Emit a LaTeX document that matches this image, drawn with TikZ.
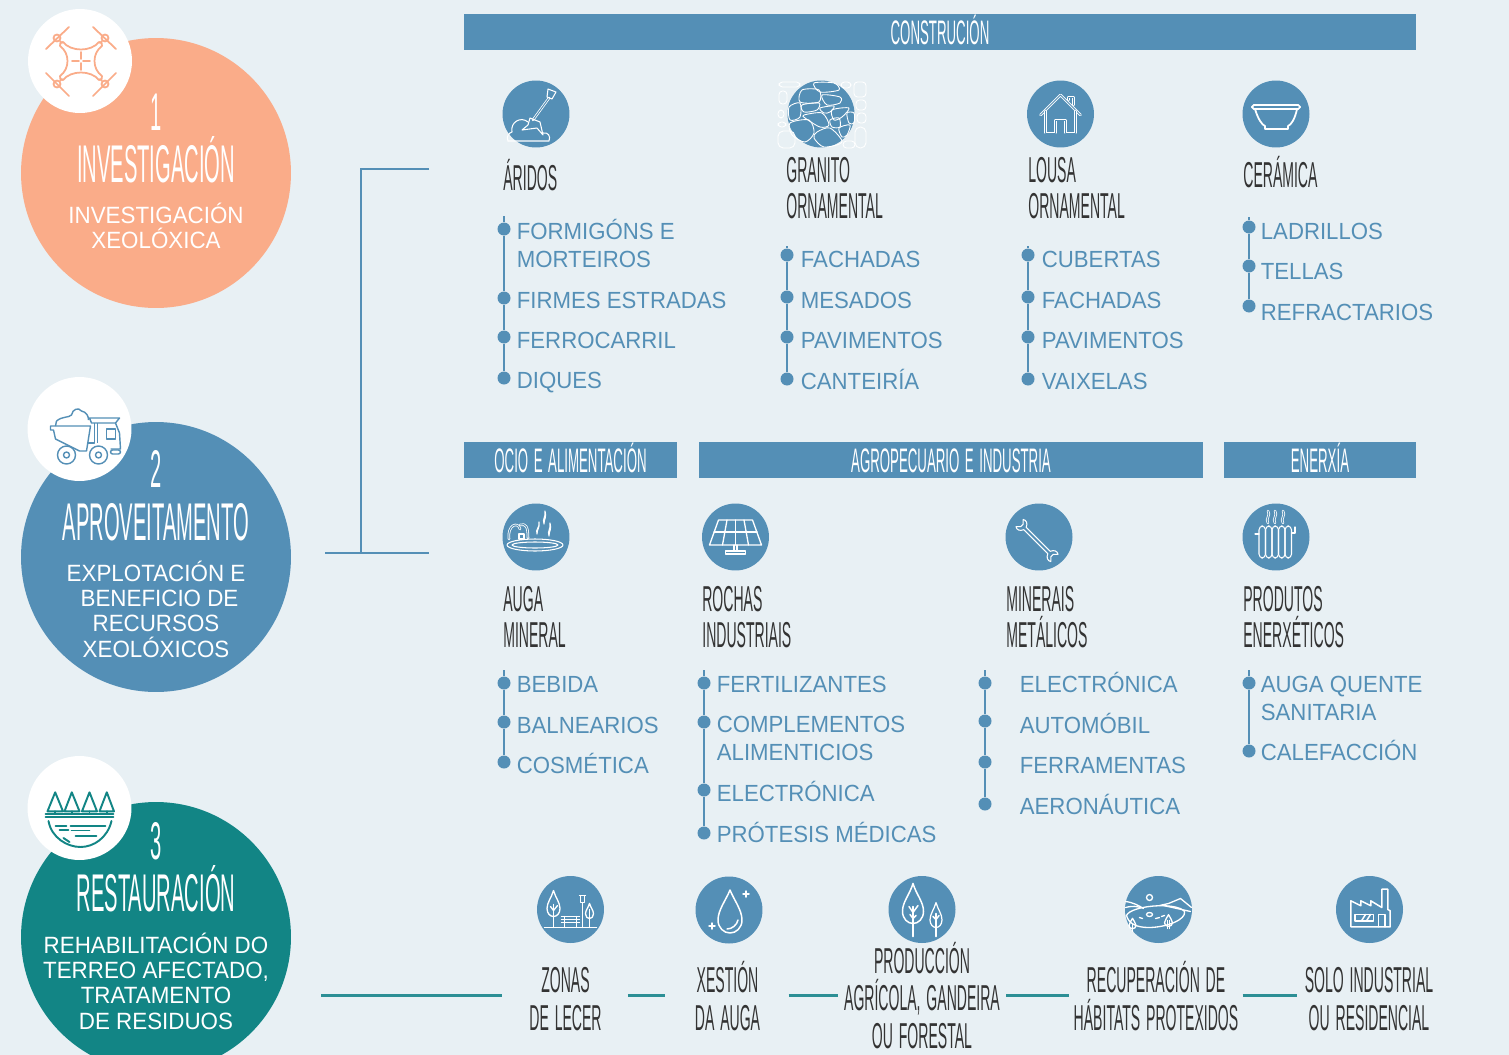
\documentclass[tikz,border=0pt]{standalone}
\usepackage{fontspec}
\setmainfont[FakeStretch=0.95]{Liberation Sans}
\newfontfamily\headfam[FakeStretch=0.39, WordSpace=1.5]{Liberation Sans}
\newfontfamily\bigfam[FakeStretch=0.38]{Liberation Sans}
\usetikzlibrary{positioning,calc}

\definecolor{bgcol}{HTML}{E8F0F4}
\definecolor{orangecol}{HTML}{FAAC89}
\definecolor{bluecol}{HTML}{548FB6}
\definecolor{tealcol}{HTML}{128585}
\definecolor{linkcol}{HTML}{2C8F95}
\definecolor{inkcol}{HTML}{333333}

\newcommand{\itemfont}{\fontsize{13.3}{15.94}\selectfont}
\newcommand{\subfont}{\fontsize{13.4}{14.25}\selectfont}
\newcommand{\labelfont}{\headfam\fontsize{20.5}{20.3}\selectfont}
\newcommand{\barfont}{\headfam\fontsize{19.35}{20}\selectfont}
\newcommand{\bigfont}{\bigfam\fontsize{30.2}{32}\selectfont}

\tikzset{
	leafy/.pic={
		\draw (0,-13) .. controls (-3,-6) and (-10,-1) .. (-10,5) .. controls (-10,10) and (-5,13) .. (0,13) .. controls (5,13) and (10,10) .. (10,5) .. controls (10,-1) and (3,-6) .. (0,-13) -- cycle;
	}
}

\begin{document}
\begin{tikzpicture}[x=0.02cm,y=-0.02cm]
	\useasboundingbox (0,0) rectangle (1509,1055);
	\clip (0,0) rectangle (1509,1055);
	\fill[bgcol] (0,0) rectangle (1509,1055);

	\begin{scope}
		\tikzstyle{every node}=[inner sep=0pt]
		\tikzstyle{stage}=[circle, minimum size=5.4cm]
		\tikzstyle{badge}=[circle, fill=white, minimum size=2.08cm]
		\tikzstyle{num}=[anchor=base, text=white, font=\bigfont]
		\tikzstyle{title}=[anchor=base, text=white, font=\bigfont]
		\tikzstyle{sub}=[anchor=base, text=white, font=\subfont, align=center]

		\node[stage, fill=orangecol] (inv) at (156,173) {};
		\node[badge] (invb) at (80,61) {};
		\node[num] (inv1) at (156,130) {1};
		\node[title] (invt) at (156,182) {INVESTIGACIÓN};
		\node[sub] (invs) at (156,248.3) {INVESTIGACIÓN\\XEOLÓXICA};

		\node[stage, fill=bluecol] (apr) at (156,557) {};
		\node[badge] (aprb) at (79.5,429) {};
		\node[num] (apr1) at (156,487) {2};
		\node[title] (aprt) at (156,540) {APROVEITAMENTO};
		\node[sub] (aprs) at (156,657) {EXPLOTACIÓN E\\\hspace{4pt}BENEFICIO DE\\RECURSOS\\XEOLÓXICOS};

		\node[stage, fill=tealcol] (res) at (156,937) {};
		\node[badge] (resb) at (79.5,808) {};
		\node[num] (res1) at (156,859) {3};
		\node[title] (rest) at (156,911) {RESTAURACIÓN};
		\node[sub] (ress) at (156,1029) {REHABILITACIÓN DO\\TERREO AFECTADO,\\TRATAMENTO\\DE RESIDUOS};
	\end{scope}

	\begin{scope}[shift={(80,61)}, orangecol, line width=1pt, line cap=round, line join=round]
		\draw (-34,-12) -- (-11,-34);
		\draw (13,-34) -- (36,-12);
		\draw (-34,12) -- (-11,35);
		\draw (36,12) -- (13,35);
		\draw (-23,-23) circle (3.5);
		\draw (25,-23) circle (3.5);
		\draw (-23,23) circle (3.5);
		\draw (25,23) circle (3.5);
		\draw (-20,-20) -- (-18,-18);
		\draw (22,-20) -- (20,-18);
		\draw (-20,20) -- (-18,18);
		\draw (22,20) -- (20,18);
		\draw (-17,-19) .. controls (-9,-9) and (11,-9) .. (19,-19) .. controls (21,-20) and (23,-17) .. (22,-15) .. controls (12,-8) and (12,8) .. (22,15) .. controls (23,17) and (21,20) .. (19,19) .. controls (11,9) and (-9,9) .. (-17,19) .. controls (-19,20) and (-21,17) .. (-20,15) .. controls (-10,8) and (-10,-8) .. (-20,-15) .. controls (-21,-17) and (-19,-20) .. (-17,-19) -- cycle;
		\draw (1,-9) -- (1,-2);
		\draw (1,2) -- (1,9);
		\draw (-8,0) -- (-1,0);
		\draw (3,0) -- (10,0);
	\end{scope}

	\begin{scope}[shift={(79.5,429)}, bluecol, line width=0.8pt, line join=round]
		\draw (-23,-8) .. controls (-17,-13) and (-11,-11) .. (-8,-14) .. controls (-7,-20) and (-1,-22) .. (2,-18) .. controls (7,-17) and (9,-13) .. (9,-9);
		\draw (-29,-3) -- (-29,1) -- (-26,1) -- (-24,10) -- (0,22) -- (7,22) -- (11,-3) -- cycle;
		\draw (-23,-8) -- (-24,-3);
		\draw (10,-11) -- (40,-11) -- (36,-6) -- (12,-6) -- cycle;
		\draw (15,-6) -- (15,14) -- (8,14);
		\draw (18,-6) -- (18,14);
		\draw (36,-6) -- (40,4) -- (41,20) -- (31,20);
		\draw (27,0) rectangle (36,10);
		\draw (-13,26) circle (9);
		\draw (-13,26) circle (3);
		\draw (19,26) circle (9);
		\draw (19,26) circle (3);
		\draw[rounded corners=1.2pt] (31,21) rectangle (41,25);
	\end{scope}

	\begin{scope}[shift={(79.5,808)}, tealcol, line width=1.1pt, line cap=round, line join=round]
		\draw (-24.3,-15.7) -- (-32,3.3) -- (-16.5,3.3) -- cycle;
		\draw (-7.7,-15.7) -- (-15,3.3) -- (0,3.3) -- cycle;
		\draw (10,-15.7) -- (2.5,3.3) -- (17.5,3.3) -- cycle;
		\draw (27.3,-15.7) -- (20,3.3) -- (34.5,3.3) -- cycle;
		\draw (-24.3,3.3) -- (-24.3,6);
		\draw (-7.7,3.3) -- (-7.7,6);
		\draw (10,3.3) -- (10,6);
		\draw (27.3,3.3) -- (27.3,6);
		\draw (-34,5.7) -- (34,5.7);
		\draw (-34,9) -- (34,9);
		\draw (-31,13) .. controls (-28,30) and (-12,39) .. (1,39) .. controls (14,39) and (28,30) .. (32,13);
		\draw (-24,17.7) -- (-13,17.7);
		\draw (-9,17.7) -- (26,17.7);
		\draw (-20,22) -- (-11,22);
		\draw (-8,22.5) -- (10,22.5);
		\draw (-4,28) -- (17,28);
		\draw (-16,30) -- (-10,34);
	\end{scope}

	\begin{scope}[bluecol, line width=1.15pt]
		\coordinate (brtop) at (429,169);
		\coordinate (brmid) at (361,169);
		\coordinate (brjoin) at (361,553);
		\coordinate (brend) at (429,553);
		\draw (brtop) -- (brmid) -- (brjoin);
		\draw[shorten <=19.35pt] (apr.east |- brjoin) -- (brend);
	\end{scope}

	\begin{scope}
		\tikzstyle{every node}=[inner sep=0pt]
		\tikzstyle{bar}=[fill=bluecol, text=white, font=\barfont, minimum height=0.72cm, text height=14pt, text depth=0pt]

		\node[bar, minimum width=19.04cm] (cons) at (940,32) {CONSTRUCIÓN};
		\node[bar, minimum width=4.26cm] (ocio) at (570.5,460) {OCIO E ALIMENTACIÓN};
		\node[bar, minimum width=10.08cm] (agro) at (951,460) {AGROPECUARIO E INDUSTRIA};
		\node[bar, minimum width=3.84cm] (ener) at (1320,460) {ENERXÍA};
	\end{scope}

	\begin{scope}
		\tikzstyle{every node}=[inner sep=0pt]
		\tikzstyle{disc}=[circle, fill=bluecol, minimum size=1.34cm]

		\node[disc] (ari) at (536,114) {};
		\node[disc] (gra) at (821,114) {};
		\node[disc] (lou) at (1060.5,114) {};
		\node[disc] (cer) at (1276,114) {};
		\node[disc] (aug) at (536,537) {};
		\node[disc] (roc) at (735.5,537) {};
		\node[disc] (mnr) at (1039,537) {};
		\node[disc] (pro) at (1276,537) {};
		\node[disc] (zon) at (570.5,909.5) {};
		\node[disc] (xes) at (729,910) {};
		\node[disc] (prd) at (922,909.5) {};
		\node[disc] (rec) at (1158.5,909.5) {};
		\node[disc] (sol) at (1369.5,909.5) {};
	\end{scope}

	\tikzstyle{ico}=[white, line width=0.6pt, line join=round, line cap=round]
	\tikzstyle{icob}=[white, line width=1pt, line join=round, line cap=round]
	\tikzstyle{twin}=[white, line width=0.45pt, double=bluecol, double distance=0.55pt, line join=round]

	\begin{scope}[shift={(536,114)}, ico]
		\draw[twin] (13,-16) -- (-3,6);
		\draw (11,-17) -- (12,-25) -- (20,-22) -- (16,-15) -- cycle;
		\draw (-6,4) -- (4,8) -- (7,21) -- (1,14) -- (-14,16) -- (-8,11) -- cycle;
		\draw (-28,27) .. controls (-30,22) and (-27,19) .. (-24,18) .. controls (-26,8) and (-15,2) .. (-8,8);
		\draw (7,19) .. controls (12,18) and (15,22) .. (13,27) -- (-28,27);
	\end{scope}

	\begin{scope}[shift={(821,114)}, ico, line width=0.5pt]
		\draw plot[smooth cycle] coordinates {(-19,-24) (-2,-24) (-2,-12) (-21,-12)};
		\draw plot[smooth cycle] coordinates {(1,-19) (19,-17) (19,-11) (6,-9)};
		\draw plot[smooth cycle] coordinates {(-32,-7) (-21,-11) (-21,3) (-31,6)};
		\draw plot[smooth cycle] coordinates {(-19,-9) (-2,-11) (-4,-4) (-17,-2)};
		\draw plot[smooth cycle] coordinates {(-1,-6) (13,-8) (9,-2) (3,-1)};
		\draw plot[smooth cycle] coordinates {(-17,1) (1,-1) (8,11) (-1,13) (-16,4)};
		\draw plot[smooth cycle] coordinates {(11,-4) (28,-6) (21,3) (13,6)};
		\draw plot[smooth cycle] coordinates {(9,6) (18,4) (19,13) (11,13)};
		\draw plot[smooth cycle] coordinates {(-31,9) (-12,6) (-7,19) (-16,28) (-29,21)};
		\draw plot[smooth cycle] coordinates {(-4,18) (9,14) (21,28) (3,33) (-7,24)};
		\draw plot[smooth cycle] coordinates {(18,14) (29,11) (26,21) (21,23)};
		\draw plot[smooth cycle] coordinates {(26,-1) (33,-1) (33,9) (28,9)};
		\draw plot[smooth cycle] coordinates {(-7,-31) (13,-31) (18,-24) (-1,-22)};
		\draw[rounded corners=2pt] (-42,-32) rectangle (-21,-27);
		\draw[rounded corners=2pt] (-42,-23) rectangle (-34,-10);
		\draw[rounded corners=2pt] (-43,-4) rectangle (-37,4);
		\draw[rounded corners=2pt] (-43,8) rectangle (-35,13);
		\draw[rounded corners=3pt] (-43,17) rectangle (-26,34);
		\draw[rounded corners=2pt] (33,-32) rectangle (45,-17);
		\draw[rounded corners=2pt] (35,-14) rectangle (45,-4);
		\draw[rounded corners=2pt] (36,-1) rectangle (45,9);
		\draw[rounded corners=3pt] (34,13) rectangle (45,34);
		\draw[rounded corners=2pt] (20,-32) rectangle (30,-26);
		\draw[rounded corners=2pt] (22,27) rectangle (34,34);
	\end{scope}

	\begin{scope}[shift={(1060.5,114)}, ico]
		\draw[twin] (-20,1) -- (0,-19) -- (20,1);
		\draw[twin] (-15,-3) -- (-15,19) -- (-5,19) -- (-5,6) -- (5,6) -- (5,19) -- (15,19) -- (15,-3);
		\draw[twin] (8,-14) -- (8,-17) -- (13,-17) -- (13,-9);
	\end{scope}

	\begin{scope}[shift={(1276,114)}, ico]
		\draw[icob, rounded corners=1pt] (-24,-9) -- (24,-9) -- (24,-5) -- (-24,-5) -- cycle;
		\draw[icob] (-21,-5) .. controls (-18,5) and (-14,11) .. (-11,12) -- (-11,15) -- (12,15) -- (12,12) .. controls (15,11) and (19,5) .. (21,-5);
	\end{scope}

	\begin{scope}[shift={(536,537)}, ico]
		\draw (-1,8) ellipse (28 and 6);
		\draw (-1,8) ellipse (23 and 3);
		\draw[twin] (-27,2) .. controls (-29,-12) and (-18,-16) .. (-16,-8);
		\draw[twin] (-16,-12) .. controls (-10,-14) and (-8,-10) .. (-8,1);
		\draw (-17,-3) rectangle (-12,2);
		\draw (1,-3) .. controls (-1,-8) and (4,-9) .. (3,-15) .. controls (4,-9) and (1,-8) .. (1,-3) -- cycle;
		\draw (8,-13) .. controls (6,-18) and (10,-20) .. (9,-26) .. controls (11,-20) and (8,-18) .. (8,-13) -- cycle;
		\draw (13,-1) .. controls (11,-6) and (15,-8) .. (14,-14) .. controls (16,-8) and (13,-6) .. (13,-1) -- cycle;
	\end{scope}

	\begin{scope}[shift={(735.5,537)}, ico, line width=0.75pt]
		\draw (-17,-17) -- (17,-17) -- (26,8) -- (-26,8) -- cycle;
		\draw (-21.5,-5) -- (21.5,-5);
		\draw (-8.5,-17) -- (-13,8);
		\draw (0,-17) -- (0,8);
		\draw (8.5,-17) -- (13,8);
		\draw (-1.5,8) -- (-1.5,14);
		\draw (1.5,8) -- (1.5,14);
		\draw (-10,14) rectangle (10,17);
	\end{scope}

	\begin{scope}[shift={(1037,540.5)}, rotate=-45, scale=0.85, ico]
		\draw (-20,-2) -- (20,-2) .. controls (22,-7) and (26,-8) .. (29,-6) -- (25,-2) -- (25,2) -- (29,6) .. controls (26,8) and (22,7) .. (20,2) -- (-20,2) .. controls (-22,7) and (-26,8) .. (-29,6) -- (-25,2) -- (-25,-2) -- (-29,-6) .. controls (-26,-8) and (-22,-7) .. (-20,-2) -- cycle;
	\end{scope}

	\begin{scope}[shift={(1276,537)}, ico]
		\draw[twin] (-8,-26) .. controls (-5,-22) and (-11,-18) .. (-8,-14);
		\draw[twin] (-1,-26) .. controls (2,-22) and (-4,-18) .. (-1,-14);
		\draw[twin] (7,-26) .. controls (10,-22) and (4,-18) .. (7,-14);
		\draw[rounded corners=2.2pt] (-17,-11) rectangle (-10.5,21);
		\draw[rounded corners=2.2pt] (-10.5,-11) rectangle (-4,21);
		\draw[rounded corners=2.2pt] (-4,-11) rectangle (2.5,21);
		\draw[rounded corners=2.2pt] (2.5,-11) rectangle (9,21);
		\draw[rounded corners=2.2pt] (9,-11) rectangle (15.5,21);
		\draw (-21,-3) -- (-17,-3);
		\draw (15.5,-4) -- (19,-4) -- (19,-10);
	\end{scope}

	\begin{scope}[shift={(570.5,909.5)}, ico, line width=0.75pt]
		\draw (-26,18) -- (26,18);
		\pic[ico, line width=0.75pt, xscale=0.65, yscale=1] at (-17,-6) {leafy};
		\draw (-17,-5) -- (-17,18);
		\draw (-20,-3) -- (-17,1) -- (-13,-4);
		\draw (-9,7) -- (9,7);
		\draw (-9,10) -- (9,10);
		\draw (-9,13) -- (9,13);
		\draw (-6,7) -- (-6,18);
		\draw (6,7) -- (6,18);
		\draw (9,-14) -- (15,-14);
		\draw (10,-14) rectangle (14,-7);
		\draw (12,-7) -- (12,18);
		\pic[ico, line width=0.75pt, xscale=0.4, yscale=0.58] at (19,1.5) {leafy};
		\draw (19,0) -- (19,18);
	\end{scope}

	\begin{scope}[shift={(729,910)}, ico, line width=0.85pt]
		\draw (1,-20) .. controls (-3,-10) and (-11,0) .. (-11,10) .. controls (-11,18) and (-5,23) .. (1,23) .. controls (7,23) and (13,18) .. (13,10) .. controls (13,0) and (5,-10) .. (1,-20) -- cycle;
		\draw (-2,19) .. controls (3,19) and (8,15) .. (9,10);
		\draw (17,-19) -- (17,-13);
		\draw (14,-16) -- (20,-16);
		\draw (-17,13) -- (-17,19);
		\draw (-20,16) -- (-14,16);
	\end{scope}

	\begin{scope}[shift={(922,909.5)}, ico, line width=0.85pt]
		\pic[ico, line width=0.85pt, xscale=1.05, yscale=1.54] at (-9,-6) {leafy};
		\draw (-9,-3) -- (-9,27);
		\draw (-13,-3) -- (-9,3) -- (-4,-4);
		\draw (-12,5) -- (-9,9) -- (-6,6);
		\pic[ico, line width=0.7pt, xscale=0.6, yscale=0.96] at (14,5.5) {leafy};
		\draw (14,4) -- (14,27);
		\draw (11,7) -- (14,10) -- (17,6);
	\end{scope}

	\begin{scope}[shift={(1158.5,909.5)}, ico, line width=0.75pt]
		\draw (-9,-12) circle (3);
		\draw (-33,-8) .. controls (-25,-7) and (-20,-4) .. (-15,-1);
		\draw (-33,-2) .. controls (-25,-4) and (-22,-3) .. (-18,-2);
		\draw (1,-4) -- (10,-6) -- (22,-11) -- (33,-2);
		\draw (5,-4) -- (32,2);
		\draw (-32,6) .. controls (-28,-4) and (18,-8) .. (26,2) .. controls (28,10) and (8,18) .. (-10,18) .. controls (-22,18) and (-30,14) .. (-32,6) -- cycle;
		\draw (-9,5) ellipse (3 and 2);
		\draw (-19,8) -- (-16,9);
		\draw (-3,9) -- (1,8);
		\draw (3,7) -- (6,6);
		\pic[ico, fill=bluecol, line width=0.75pt, xscale=0.35, yscale=0.4] at (-26,14) {leafy};
		\draw (-26,15) -- (-26,22);
		\pic[ico, fill=bluecol, line width=0.75pt, xscale=0.4, yscale=0.45] at (10,11) {leafy};
		\draw (9,11) -- (9,19);
		\draw (11,11) -- (11,19);
	\end{scope}

	\begin{scope}[shift={(1369.5,909.5)}, ico, line width=0.85pt]
		\draw (-18.7,17.3) -- (-18.7,-8.7) -- (-8.7,-3.7) -- (-8.7,-8.7) -- (1.3,-3.7) -- (1.3,-8.7) -- (12.3,-2) -- (12.3,-20.3) -- (18.3,-20.3) -- (18.3,0) -- (20.7,1.3) -- (20.7,17.3) -- cycle;
		\draw (-14.3,5) rectangle (4,11.3);
		\draw (-8,11.3) -- (-4,5);
		\draw (-3,11.3) -- (1,5);
		\draw (9,17.3) -- (9,5) -- (15.7,5) -- (15.7,17.3);
	\end{scope}

	\begin{scope}
		\tikzstyle{every node}=[inner sep=0pt]
		\tikzstyle{head}=[anchor=base west, text=inkcol, font=\labelfont, align=left]

		\node[head] (arih) at (503,190.7) {ÁRIDOS};
		\node[head] (grah) at (786,218.3) {GRANITO\\ORNAMENTAL};
		\node[head] (louh) at (1028,218.3) {LOUSA\\ORNAMENTAL};
		\node[head] (cerh) at (1243,187.3) {CERÁMICA};
		\node[head] (augh) at (503,647) {AUGA\\MINERAL};
		\node[head] (roch) at (702,647) {ROCHAS\\INDUSTRIAIS};
		\node[head] (mnrh) at (1006,647) {MINERAIS\\METÁLICOS};
		\node[head] (proh) at (1243,647) {PRODUTOS\\ENERXÉTICOS};
	\end{scope}

	\begin{scope}
		\tikzstyle{every node}=[inner sep=0pt]
		\tikzstyle{dot}=[circle, fill=bluecol, minimum size=0.26cm]
		\tikzstyle{spine}=[bluecol, line width=1.4pt]
		\tikzstyle{item}=[anchor=base west, text=bluecol, font=\itemfont, align=left]

		\coordinate (a0) at (504,216);
		\node[dot] (a1) at (504,229) {};
		\node[dot] (a2) at (504,298) {};
		\node[dot] (a3) at (504,337) {};
		\node[dot] (a4) at (504,378) {};
		\draw[spine] (a0) -- (a1) -- (a2) -- (a3) -- (a4);
		\node[item] (a1t) at (516.5,267.5) {FORMIGÓNS E\\MORTEIROS};
		\node[item] (a2t) at (516.5,308.5) {FIRMES ESTRADAS};
		\node[item] (a3t) at (516.5,348.5) {FERROCARRIL};
		\node[item] (a4t) at (516.5,388.5) {DIQUES};

		\coordinate (g0) at (787,246);
		\node[dot] (g1) at (787,255) {};
		\node[dot] (g2) at (787,297) {};
		\node[dot] (g3) at (787,337) {};
		\node[dot] (g4) at (787,379) {};
		\draw[spine] (g0) -- (g1) -- (g2) -- (g3) -- (g4);
		\node[item] (g1t) at (800.5,267.5) {FACHADAS};
		\node[item] (g2t) at (800.5,308.5) {MESADOS};
		\node[item] (g3t) at (800.5,348.5) {PAVIMENTOS};
		\node[item] (g4t) at (800.5,389.5) {CANTEIRÍA};

		\coordinate (l0) at (1028,246);
		\node[dot] (l1) at (1028,255) {};
		\node[dot] (l2) at (1028,297) {};
		\node[dot] (l3) at (1028,337) {};
		\node[dot] (l4) at (1028,379) {};
		\draw[spine] (l0) -- (l1) -- (l2) -- (l3) -- (l4);
		\node[item] (l1t) at (1041.5,267.5) {CUBERTAS};
		\node[item] (l2t) at (1041.5,308.5) {FACHADAS};
		\node[item] (l3t) at (1041.5,348.5) {PAVIMENTOS};
		\node[item] (l4t) at (1041.5,389.5) {VAIXELAS};

		\coordinate (c0) at (1249,217);
		\node[dot] (c1) at (1249,227) {};
		\node[dot] (c2) at (1249,266) {};
		\node[dot] (c3) at (1249,306) {};
		\draw[spine] (c0) -- (c1) -- (c2) -- (c3);
		\node[item] (c1t) at (1260.5,239.5) {LADRILLOS};
		\node[item] (c2t) at (1260.5,279.5) {TELLAS};
		\node[item] (c3t) at (1260.5,320.5) {REFRACTARIOS};

		\coordinate (u0) at (504,670);
		\node[dot] (u1) at (504,683) {};
		\node[dot] (u2) at (504,722) {};
		\node[dot] (u3) at (504,762) {};
		\draw[spine] (u0) -- (u1) -- (u2) -- (u3);
		\node[item] (u1t) at (516.5,692.5) {BEBIDA};
		\node[item] (u2t) at (516.5,733.5) {BALNEARIOS};
		\node[item] (u3t) at (516.5,773.5) {COSMÉTICA};

		\coordinate (r0) at (704,670);
		\node[dot] (r1) at (704,683) {};
		\node[dot] (r2) at (704,722) {};
		\node[dot] (r3) at (704,790) {};
		\node[dot] (r4) at (704,833) {};
		\draw[spine] (r0) -- (r1) -- (r2) -- (r3) -- (r4);
		\node[item] (r1t) at (716.5,692.5) {FERTILIZANTES};
		\node[item] (r2t) at (716.5,760.5) {COMPLEMENTOS\\ALIMENTICIOS};
		\node[item] (r3t) at (716.5,801.5) {ELECTRÓNICA};
		\node[item] (r4t) at (716.5,842.5) {PRÓTESIS MÉDICAS};

		\coordinate (m0) at (985,670);
		\node[dot] (m1) at (985,683) {};
		\node[dot] (m2) at (985,721) {};
		\node[dot] (m3) at (985,762) {};
		\node[dot] (m4) at (985,804) {};
		\draw[spine] (m0) -- (m1) -- (m2) -- (m3) -- (m4);
		\node[item] (m1t) at (1019.5,692.5) {ELECTRÓNICA};
		\node[item] (m2t) at (1019.5,733.5) {AUTOMÓBIL};
		\node[item] (m3t) at (1019.5,773.5) {FERRAMENTAS};
		\node[item] (m4t) at (1019.5,814.5) {AERONÁUTICA};

		\coordinate (p0) at (1249,670);
		\node[dot] (p1) at (1249,683) {};
		\node[dot] (p2) at (1249,751) {};
		\draw[spine] (p0) -- (p1) -- (p2);
		\node[item] (p1t) at (1260.5,720.5) {AUGA QUENTE\\SANITARIA};
		\node[item] (p2t) at (1260.5,760.5) {CALEFACCIÓN};
	\end{scope}

	\begin{scope}
		\tikzstyle{every node}=[inner sep=0pt]
		\tikzstyle{foot}=[anchor=base, text=inkcol, font=\labelfont, align=center]
		\tikzstyle{link}=[linkcol, line width=1.15pt]

		\node[foot] (zonh) at (565.5,1030) {ZONAS\\[1pt]DE LECER};
		\node[foot] (xesh) at (727.5,1030) {XESTIÓN\\[1pt]DA AUGA};
		\node[foot] (prdh) at (922,1048) {PRODUCCIÓN\\[1pt]AGRÍCOLA, GANDEIRA\\[1pt]OU FORESTAL};
		\node[foot] (rech) at (1156,1030) {RECUPERACIÓN DE\\[1pt]HÁBITATS PROTEXIDOS};
		\node[foot] (solh) at (1369,1030) {SOLO INDUSTRIAL\\[1pt]OU RESIDENCIAL};

		\coordinate (lvl) at (0,995.5);
		\draw[link, shorten <=17pt, shorten >=15.4pt] (res.east |- lvl) -- (zonh.west |- lvl);
		\draw[link, shorten <=14.8pt, shorten >=17pt] (zonh.east |- lvl) -- (xesh.west |- lvl);
		\draw[link, shorten <=16pt, shorten >=3.4pt] (xesh.east |- lvl) -- (prdh.west |- lvl);
		\draw[link, shorten <=3.4pt, shorten >=2.3pt] (prdh.east |- lvl) -- (rech.west |- lvl);
		\draw[link, shorten <=2.3pt, shorten >=4pt] (rech.east |- lvl) -- (solh.west |- lvl);
	\end{scope}
\end{tikzpicture}
\end{document}
